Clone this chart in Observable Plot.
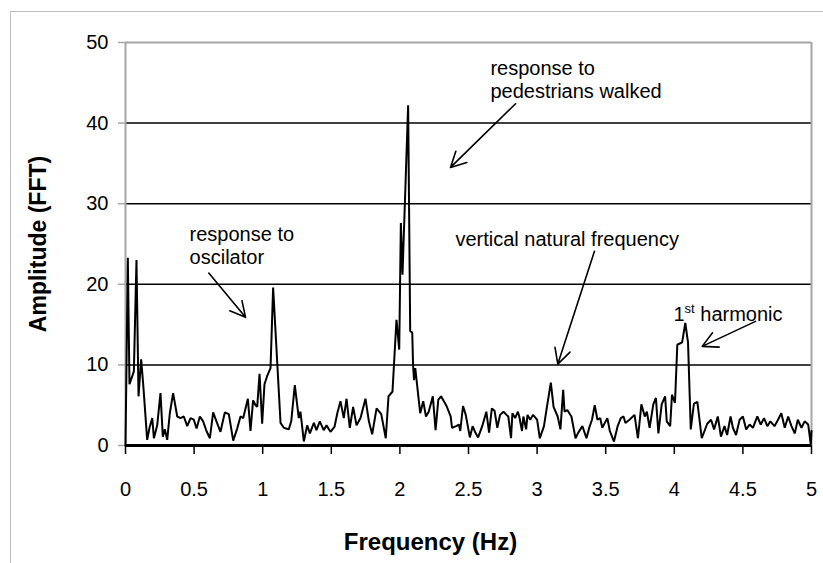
<!DOCTYPE html>
<html>
<head>
<meta charset="utf-8">
<script src="https://cdn.jsdelivr.net/npm/d3@7"></script>
<script src="https://cdn.jsdelivr.net/npm/@observablehq/plot@0.6"></script>
<style>
  html, body { margin: 0; padding: 0; background: #fff; }
  #wrap { position: relative; width: 823px; height: 563px; overflow: hidden; }
  #frame { position: absolute; left: 10px; top: 11px; width: 830px; height: 600px;
           border: 1.5px solid #bfbfbf; box-sizing: border-box; pointer-events: none; }
</style>
</head>
<body>
<div id="wrap"><div id="frame"></div></div>
<script>
// Frequency (Hz) and FFT amplitude
const freq = [0.000,0.017,0.029,0.061,0.080,0.095,0.114,0.129,0.158,0.175,0.195,0.207,0.231,0.255,0.272,0.287,0.304,0.323,0.347,0.377,
0.401,0.425,0.450,0.474,0.498,0.518,0.542,0.566,0.590,0.615,0.639,0.663,0.692,0.724,0.753,0.785,0.814,0.838,0.858,0.892,
0.911,0.930,0.948,0.960,0.977,0.996,1.013,1.032,1.057,1.076,1.130,1.154,1.190,1.208,1.234,1.263,1.275,1.300,1.324,1.344,
1.373,1.392,1.416,1.445,1.465,1.494,1.523,1.545,1.567,1.591,1.611,1.635,1.659,1.684,1.713,1.749,1.774,1.798,1.830,1.864,
1.897,1.917,1.946,1.975,1.995,2.007,2.019,2.060,2.075,2.090,2.096,2.103,2.112,2.148,2.170,2.190,2.210,2.240,2.260,2.280,
2.300,2.340,2.370,2.380,2.410,2.430,2.440,2.460,2.480,2.510,2.530,2.550,2.570,2.600,2.630,2.650,2.670,2.690,2.710,2.730,
2.755,2.777,2.790,2.810,2.820,2.840,2.860,2.870,2.890,2.900,2.920,2.930,2.950,2.970,3.000,3.020,3.050,3.070,3.100,3.120,
3.150,3.170,3.190,3.200,3.220,3.250,3.280,3.300,3.330,3.360,3.380,3.400,3.420,3.440,3.460,3.475,3.512,3.530,3.560,3.587,
3.610,3.630,3.644,3.673,3.710,3.735,3.760,3.785,3.800,3.820,3.847,3.866,3.884,3.908,3.933,3.945,3.970,3.983,4.005,4.022,
4.057,4.080,4.100,4.120,4.143,4.168,4.200,4.240,4.268,4.290,4.317,4.340,4.366,4.385,4.410,4.427,4.450,4.476,4.500,4.524,
4.549,4.573,4.605,4.630,4.654,4.678,4.700,4.730,4.756,4.780,4.805,4.830,4.854,4.878,4.900,4.927,4.950,4.976,4.995,5.000];
const amp = [0.0,23.3,7.6,9.2,23.0,6.1,10.7,7.6,0.7,2.2,3.4,0.9,2.5,6.5,1.1,2.0,0.7,4.0,6.5,3.6,
3.4,3.6,2.4,3.4,3.2,2.1,3.6,3.0,1.8,0.9,4.1,3.0,1.7,4.1,3.9,0.6,2.1,3.6,3.4,5.8,
1.8,5.6,5.0,4.8,8.9,2.7,7.6,8.6,9.6,19.6,2.8,2.2,2.0,3.0,7.5,3.4,4.2,0.5,2.5,1.5,
2.8,1.9,3.0,1.9,2.5,1.7,2.3,4.1,5.5,3.4,5.8,2.2,4.8,2.5,3.4,5.8,3.0,1.4,4.6,3.9,
0.9,6.1,6.7,15.6,11.9,27.6,21.2,42.2,14.2,14.0,10.0,8.1,9.6,4.0,5.5,3.6,4.2,6.1,1.9,5.7,
6.1,4.9,3.6,2.2,2.4,2.6,1.8,4.9,3.8,1.0,2.4,1.6,1.0,2.4,4.2,1.6,4.6,4.3,2.2,3.8,
4.2,3.8,3.6,0.9,4.0,3.4,4.2,3.6,1.8,3.6,2.0,3.8,3.2,3.8,3.2,0.9,2.4,4.6,7.8,4.8,
3.6,2.0,6.9,4.2,4.4,3.6,0.9,1.6,2.4,0.9,2.2,3.2,5.0,3.2,3.4,2.2,3.4,1.8,0.5,2.4,
3.4,3.6,2.8,3.2,3.8,0.9,5.1,3.6,4.2,2.2,5.1,5.9,1.5,5.1,6.1,3.0,2.4,6.3,5.3,12.5,
12.8,15.2,12.8,2.0,5.2,5.4,0.9,2.7,3.2,2.0,3.6,1.1,2.4,1.3,3.6,2.2,1.3,3.2,3.6,2.0,
2.6,2.2,3.6,2.6,3.4,2.4,3.0,2.4,3.2,4.0,2.2,3.6,2.4,1.5,3.2,2.2,3.0,2.6,0.1,1.8];

const xTicks = [0, 0.5, 1, 1.5, 2, 2.5, 3, 3.5, 4, 4.5, 5];
const yTicks = [0, 10, 20, 30, 40, 50];
const gridLines = [10, 20, 30, 40];

// Annotations (data units)
const annText = ["response to\npedestrians walked", "response to\noscilator", "vertical natural frequency", "1st harmonic"];
const annX = [2.66, 0.467, 2.405, 3.994];
const annY = [45.4, 24.9, 25.7, 16.4];
const arrX1 = [2.843, 0.607, 3.418, 4.592];
const arrY1 = [42.4, 21.4, 24.1, 15.4];
const arrX2 = [2.369, 0.875, 3.151, 4.203];
const arrY2 = [34.5, 15.9, 10.1, 12.3];

const xTitle = "Frequency (Hz)";
const yTitle = "Amplitude (FFT)";

const series = freq.map((f, i) => ({f, a: amp[i]}));
const anns = annText.map((t, i) => ({t, x: annX[i], y: annY[i]}));
const arrows = arrX1.map((d, i) => ({x1: d, y1: arrY1[i], x2: arrX2[i], y2: arrY2[i]}));

const font = "'Liberation Sans', Arial, sans-serif";

const chart = Plot.plot({
  width: 823, height: 563,
  marginLeft: 125, marginRight: 12, marginTop: 42, marginBottom: 118,
  x: {domain: [0, 5]},
  y: {domain: [0, 50]},
  style: {fontFamily: font, fontSize: "20px", background: "transparent", color: "black"},
  marks: [
    Plot.ruleY(gridLines, {stroke: "black", strokeWidth: 1.5}),
    Plot.ruleY([50], {stroke: "#a6a6a6", strokeWidth: 2}),
    Plot.ruleX([5], {stroke: "#a6a6a6", strokeWidth: 2}),
    Plot.ruleX([0], {stroke: "#a6a6a6", strokeWidth: 2}),
    Plot.axisY({ticks: yTicks, tickSize: 7, tickPadding: 10, stroke: "#a6a6a6", fill: "black", label: null, fontSize: 20, strokeWidth: 1.5}),
    Plot.axisX({ticks: xTicks, tickSize: 9, tickPadding: 27, tickFormat: d => String(d), label: null, fontSize: 20, strokeWidth: 1.5}),
    Plot.line(series, {x: "f", y: "a", stroke: "black", strokeWidth: 2, strokeLinejoin: "miter"}),
    Plot.ruleY([0], {stroke: "black", strokeWidth: 3}),
    Plot.arrow(arrows, {x1: "x1", y1: "y1", x2: "x2", y2: "y2", stroke: "black", strokeWidth: 1.6, headLength: 16, headAngle: 55}),
    Plot.text(anns, {x: "x", y: "y", text: "t", textAnchor: "start", fontSize: 20, lineHeight: 1.15, fill: "black"}),
    Plot.text([xTitle], {frameAnchor: "bottom", dx: -38, dy: 104, fontSize: 24, fontWeight: "bold", fill: "black"}),
    Plot.text([yTitle], {frameAnchor: "left", textAnchor: "middle", dx: -87, rotate: -90, fontSize: 23, fontWeight: "bold", fill: "black"})
  ]
});

// superscript for "1st"
chart.querySelectorAll("text").forEach(t => {
  if (t.textContent === "1st harmonic") {
    t.innerHTML = '1<tspan dy="-8" font-size="13">st</tspan><tspan dy="8"> harmonic</tspan>';
  }
});

document.getElementById("wrap").insertBefore(chart, document.getElementById("frame"));
</script>
</body>
</html>
